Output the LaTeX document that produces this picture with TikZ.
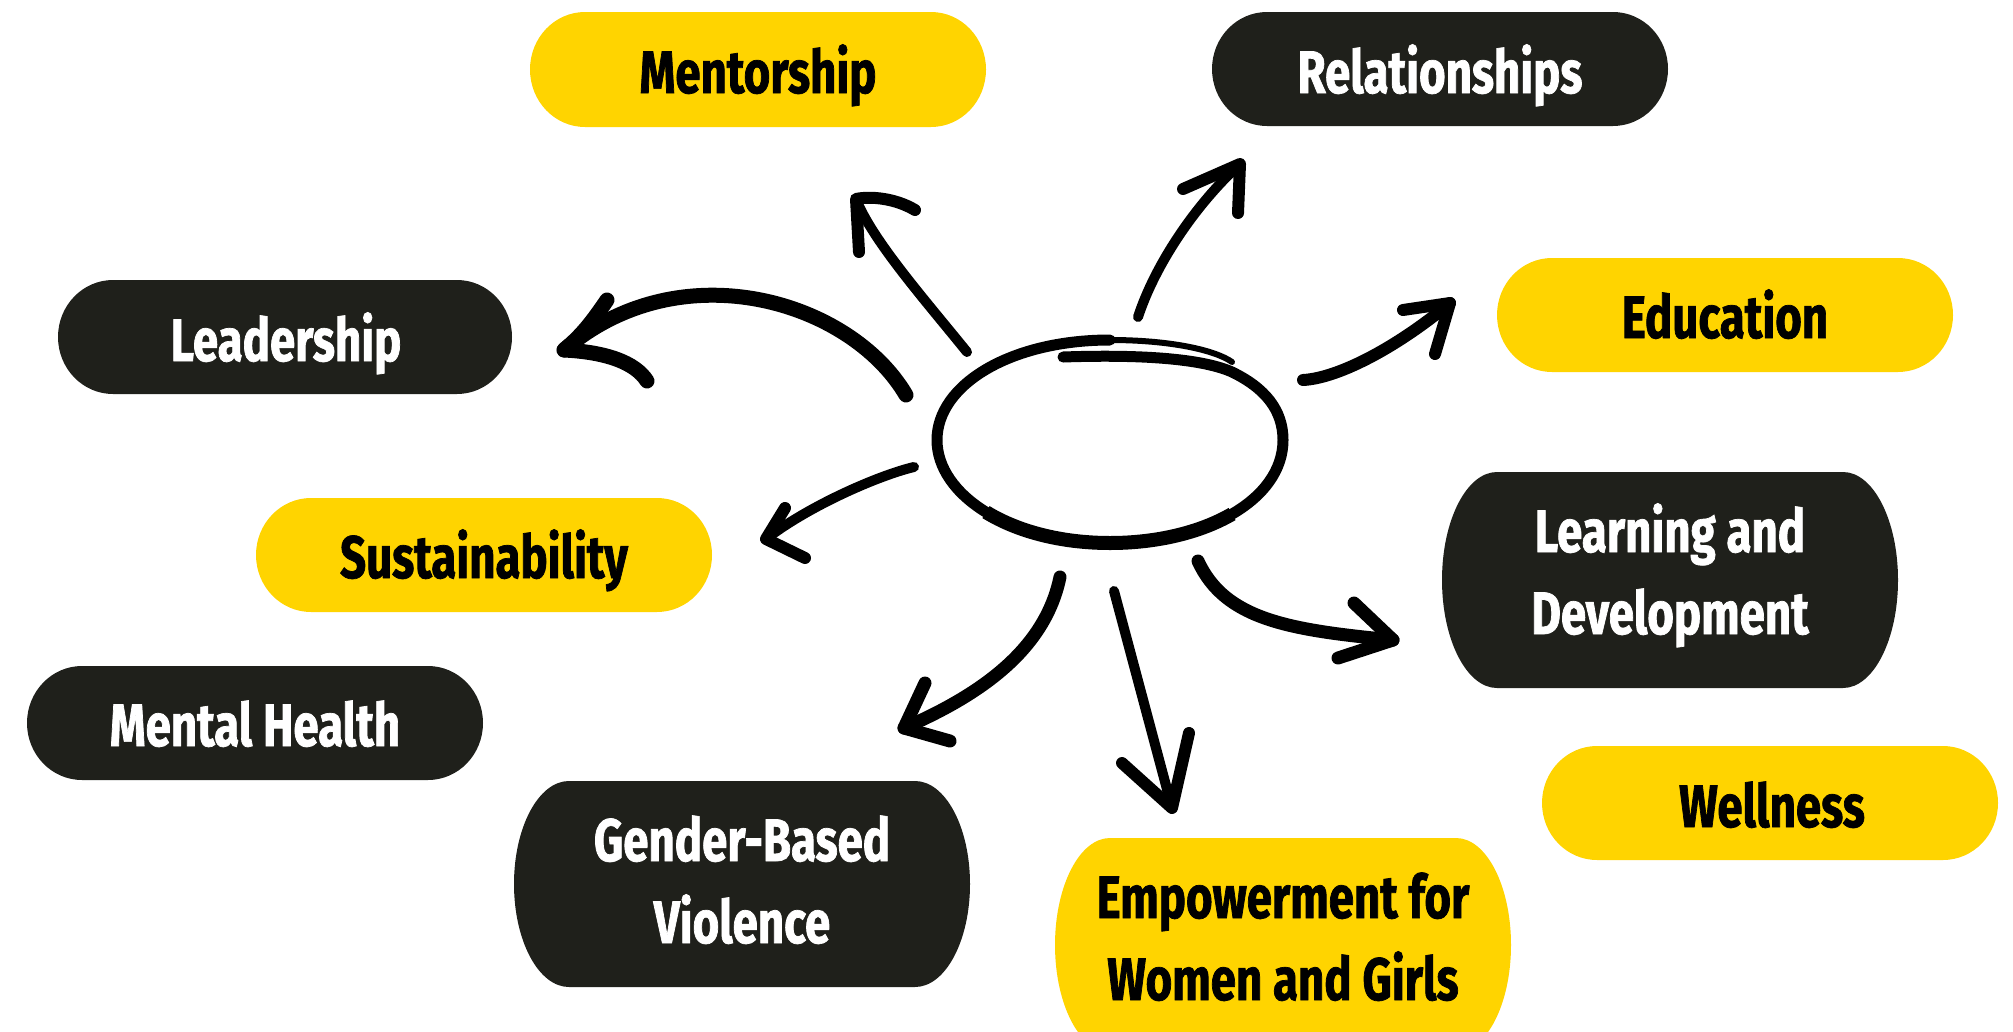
\documentclass[tikz,border=0pt]{standalone}
\usepackage{fontspec}
\newfontfamily\lblfont{Fira Sans}[FakeStretch=0.76, FakeBold=1.2]
\definecolor{pillyellow}{HTML}{FFD400}
\definecolor{pilldark}{HTML}{1F201B}
\newcommand{\pill}[5]{\fill[#5] ({#1+55},#2) -- ({#3-55},#2)
  arc[start angle=-90,end angle=90,x radius=55,y radius={(#4-#2)/2}] -- ({#1+55},#4)
  arc[start angle=90,end angle=270,x radius=55,y radius={(#4-#2)/2}] -- cycle;}
\begin{document}
\begin{tikzpicture}[x=1pt,y=-1pt,
  lbl/.style={font=\lblfont\bfseries\fontsize{60}{82}\selectfont, inner sep=0pt, anchor=base},
  onyellow/.style={lbl,text=black},
  ondark/.style={lbl,text=white},
  yellowpill/.style={fill=pillyellow},
  darkpill/.style={fill=pilldark},
  shaft/.style={line width=#1, line cap=round},
  shaft/.default=10,
  barb/.style={line width=#1, line cap=round, line join=round},
  barb/.default=12,
  loopline/.style={line width=#1, line cap=round, line join=round}]
\useasboundingbox (0,0) rectangle (2013,1031);
\clip (0,0) rectangle (2013,1031);
\fill[white] (0,0) rectangle (2013,1031);

% boxes
\pill{530}{12}{986}{127}{yellowpill}
\pill{1212}{12}{1668}{126}{darkpill}
\pill{58}{280}{512}{394}{darkpill}
\pill{1497}{258}{1953}{372}{yellowpill}
\pill{256}{498}{712}{612}{yellowpill}
\pill{1442}{472}{1898}{688}{darkpill}
\pill{27}{666}{483}{780}{darkpill}
\pill{1542}{746}{1998}{860}{yellowpill}
\pill{514}{781}{970}{987}{darkpill}
\pill{1055}{838}{1511}{1052}{yellowpill}

% labels
\node[onyellow] (mentor) at (758,93) {Mentorship};
\node[ondark] (relat) at (1440,93) {Relationships};
\node[ondark] (leader) at (286,361) {Leadership};
\node[onyellow] (educ) at (1725,338) {Education};
\node[onyellow] (sustain) at (484,578) {Sustainability};
\node[ondark] (learn) at (1670,634) {\begin{tabular}[b]{@{}c@{}}Learning and\\Development\end{tabular}};
\node[ondark] (mental) at (255,746) {Mental Health};
\node[onyellow] (well) at (1772,827) {Wellness};
\node[ondark] (gender) at (742,943) {\begin{tabular}[b]{@{}c@{}}Gender-Based\\Violence\end{tabular}};
\node[onyellow] (empower) at (1283,1000) {\begin{tabular}[b]{@{}c@{}}Empowerment for\\Women and Girls\end{tabular}};

% central hand-drawn loop
\coordinate (hub) at (1110,442);
\draw[loopline=11] (1063,357) .. controls (1150,354) and (1205,360) .. (1232,372)
  .. controls (1265,388) and (1283,410) .. (1283,440)
  .. controls (1283,500) and (1205,543) .. (1110,543)
  .. controls (1010,543) and (937,495) .. (937,440)
  .. controls (937,385) and (1010,340) .. (1110,340);
\draw[loopline=14, line cap=butt] (1232.1,514) .. controls (1200.75,532.25) and (1157.5,543) .. (1110,543)
  .. controls (1060,543) and (1016.75,531) .. (986,512.1);
\draw[loopline=6] (1110,340) .. controls (1170,340) and (1215,350) .. (1232,362);

% arrows
\coordinate (mS) at (967,352); \coordinate (mT) at (856,199);
\draw[shaft=10] (mS) .. controls (925,300) and (872,240) .. (mT);
\draw[barb] (915,210) .. controls (895,198) and (870,196) .. (mT) -- ++(3,53);

\coordinate (rS) at (1138,317); \coordinate (rT) at (1240,164);
\draw[shaft=10] (rS) .. controls (1155,265) and (1195,205) .. (rT);
\draw[barb] (rT) ++(-57,25) -- (rT) -- ++(-2,49);

\coordinate (lS) at (906,395); \coordinate (lT) at (564,350);
\draw[shaft=15] (lS) .. controls (850,300) and (680,250) .. (lT);
\draw[barb=15] (607,300) .. controls (592,322) and (582,335) .. (lT) .. controls (605,352) and (635,362) .. (647,381);

\coordinate (eS) at (1303,380); \coordinate (eT) at (1450,303);
\draw[shaft=12] (eS) .. controls (1340,378) and (1400,345) .. (eT);
\draw[barb] (eT) ++(-47,7) -- (eT) -- ++(-15,51);

\coordinate (sS) at (914,467); \coordinate (sT) at (766,539);
\draw[shaft=10] (sS) .. controls (880,475) and (810,505) .. (sT);
\draw[barb] (sT) ++(19,-31) -- (sT) -- ++(39,19);

\coordinate (dS) at (1198,561); \coordinate (dT) at (1393,640);
\draw[shaft=13] (dS) .. controls (1225,620) and (1290,630) .. (dT);
\draw[barb=13] (dT) ++(-39,-37) -- (dT) -- ++(-55,18);

\coordinate (gS) at (1060,577); \coordinate (gT) at (904,728);
\draw[shaft=13] (gS) .. controls (1045,650) and (980,695) .. (gT);
\draw[barb=13] (gT) ++(21,-45) -- (gT) -- ++(46,13);

\coordinate (wS) at (1114,591); \coordinate (wT) at (1172,808);
\draw[shaft=10] (wS) -- (wT);
\draw[barb] (wT) ++(-50,-45) -- (wT) -- ++(17,-75);
\end{tikzpicture}
\end{document}
